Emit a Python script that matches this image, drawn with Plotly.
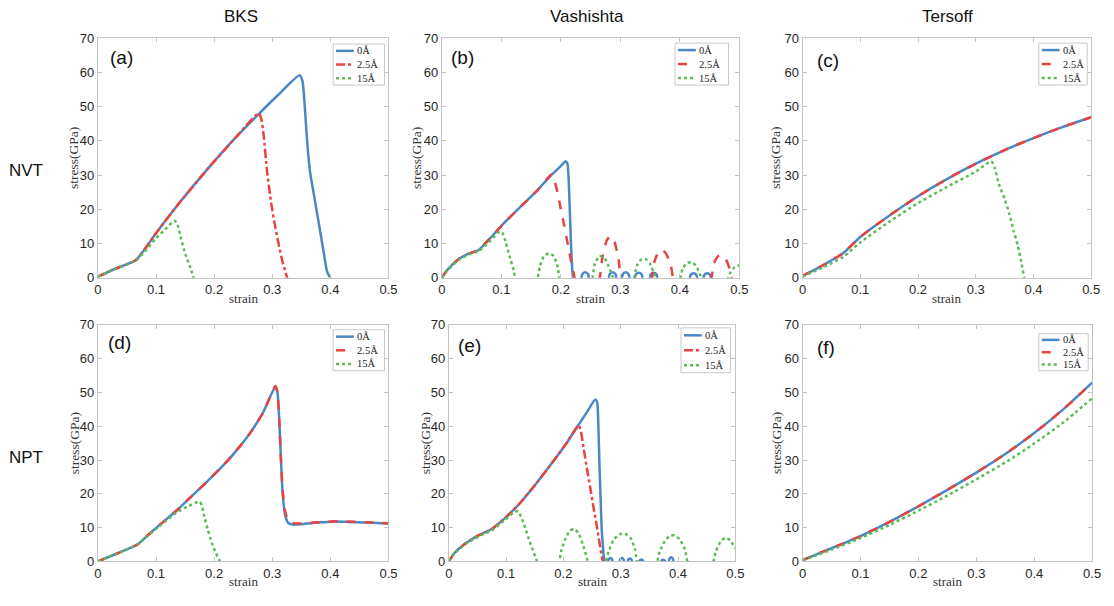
import plotly.graph_objects as go
from plotly.subplots import make_subplots

W, H = 1114, 606

# ---------------- data: strain / stress (GPa) ----------------
# BKS, NVT
bks_nvt_0_strain = [0, 0.03, 0.065, 0.08, 0.10, 0.14, 0.19, 0.24, 0.277, 0.31, 0.347, 0.352, 0.356, 0.360, 0.365, 0.372, 0.381, 0.389, 0.394, 0.398, 0.403]
bks_nvt_0_stress = [0.3, 2.6, 5.1, 8.2, 13.0, 21.8, 32.0, 41.5, 47.9, 53.4, 59.2, 57.5, 50.0, 40.0, 31.0, 24.0, 15.0, 7.0, 2.0, 0.5, -0.8]
bks_nvt_25_strain = [0, 0.03, 0.065, 0.08, 0.10, 0.14, 0.19, 0.24, 0.277, 0.281, 0.285, 0.291, 0.298, 0.305, 0.312, 0.318, 0.323, 0.327]
bks_nvt_25_stress = [0.3, 2.6, 5.1, 8.2, 13.0, 21.8, 32.0, 41.5, 48.1, 46.5, 42.0, 31.3, 22.0, 15.0, 9.0, 4.5, 1.5, -0.8]
bks_nvt_15_strain = [0, 0.03, 0.065, 0.08, 0.099, 0.115, 0.132, 0.137, 0.142, 0.151, 0.159, 0.166]
bks_nvt_15_stress = [0.3, 2.6, 5.0, 7.5, 11.3, 14.0, 16.6, 15.5, 12.0, 6.6, 3.0, -0.8]

# Vashishta, NVT
vas_nvt_0_strain = [0, 0.01, 0.029, 0.045, 0.062, 0.08, 0.106, 0.135, 0.161, 0.184, 0.2, 0.208, 0.211, 0.214, 0.216, 0.218, 0.22, 0.222,
                    0.233, 0.236, 0.241, 0.246, 0.249,
                    0.279, 0.282, 0.287, 0.292, 0.295,
                    0.301, 0.304, 0.309, 0.314, 0.317,
                    0.323, 0.326, 0.331, 0.336, 0.339,
                    0.348, 0.351, 0.356, 0.361, 0.364,
                    0.415, 0.418, 0.423, 0.428, 0.431,
                    0.438, 0.441, 0.446, 0.451, 0.454, 0.5]
vas_nvt_0_stress = [0, 2.4, 5.5, 7.0, 8.1, 11.3, 16.2, 21.2, 25.6, 30.0, 32.6, 34.0, 33.4, 25.0, 15.0, 6.0, 1.0, -1.5,
                    -1.5, 1.0, 1.6, 1.0, -1.5,
                    -1.5, 1.0, 1.6, 1.0, -1.5,
                    -1.5, 1.0, 1.6, 1.0, -1.5,
                    -1.5, 0.9, 1.4, 0.9, -1.5,
                    -1.5, 0.9, 1.4, 0.9, -1.5,
                    -1.5, 0.8, 1.3, 0.8, -1.5,
                    -1.5, 0.8, 1.3, 0.8, -1.5, -1.5]
vas_nvt_25_strain = [0, 0.01, 0.029, 0.045, 0.062, 0.08, 0.106, 0.135, 0.161, 0.185, 0.19, 0.195, 0.2, 0.206, 0.212, 0.217, 0.222, 0.226,
                     0.262, 0.27, 0.277, 0.283, 0.29, 0.297, 0.304,
                     0.35, 0.357, 0.364, 0.37, 0.377, 0.385, 0.392,
                     0.45, 0.457, 0.464, 0.47, 0.477, 0.484, 0.49, 0.5]
vas_nvt_25_stress = [0, 2.4, 5.5, 7.0, 8.1, 11.3, 16.2, 21.2, 25.6, 30.2, 28.0, 24.5, 20.0, 15.0, 9.5, 5.0, 1.0, -1.5,
                     -1.5, 6.0, 10.8, 12.1, 10.5, 5.5, -1.5,
                     -1.5, 4.5, 7.5, 8.1, 7.0, 3.5, -1.5,
                     -1.5, 4.0, 6.2, 6.6, 5.5, 2.5, -1.5, -1.0]
vas_nvt_15_strain = [0, 0.01, 0.029, 0.045, 0.062, 0.08, 0.097, 0.102, 0.108, 0.115, 0.121, 0.126,
                     0.158, 0.165, 0.172, 0.18, 0.188, 0.195, 0.2,
                     0.25, 0.257, 0.265, 0.273, 0.28, 0.288, 0.293,
                     0.32, 0.328, 0.335, 0.342, 0.35, 0.357, 0.362,
                     0.398, 0.405, 0.413, 0.42, 0.427, 0.434, 0.44,
                     0.477, 0.485, 0.492, 0.5]
vas_nvt_15_stress = [0, 2.3, 5.3, 6.7, 7.8, 10.5, 13.5, 13.0, 10.0, 5.5, 2.0, -1.5,
                     -1.5, 3.5, 6.3, 7.1, 6.3, 3.0, -1.5,
                     -1.5, 4.0, 6.3, 5.8, 3.5, 0.0, -1.5,
                     -1.5, 3.5, 5.3, 5.5, 4.0, 1.0, -1.5,
                     -1.5, 2.8, 4.3, 4.5, 3.5, 1.0, -1.5,
                     -1.5, 1.5, 3.0, 3.6]

# Tersoff, NVT
ter_nvt_0_strain = [0, 0.035, 0.07, 0.1, 0.15, 0.2, 0.25, 0.3, 0.35, 0.4, 0.45, 0.5]
ter_nvt_0_stress = [0.5, 3.6, 7.1, 11.9, 18.1, 23.8, 28.8, 33.3, 37.3, 40.8, 44.0, 46.9]
ter_nvt_25_strain = [0, 0.035, 0.07, 0.1, 0.15, 0.2, 0.25, 0.3, 0.35, 0.4, 0.45, 0.5]
ter_nvt_25_stress = [0.5, 3.6, 7.1, 11.9, 18.1, 23.8, 28.8, 33.3, 37.3, 40.8, 44.0, 46.9]
ter_nvt_15_strain = [0, 0.035, 0.07, 0.1, 0.15, 0.2, 0.25, 0.3, 0.327, 0.333, 0.34, 0.35, 0.358, 0.366, 0.373, 0.379, 0.384, 0.386]
ter_nvt_15_stress = [0.3, 3.0, 6.0, 10.3, 16.3, 21.8, 26.5, 31.0, 34.0, 32.0, 27.5, 23.0, 18.8, 13.5, 9.3, 4.5, 0.0, -1.0]

# BKS, NPT
bks_npt_0_strain = [0, 0.035, 0.068, 0.085, 0.105, 0.135, 0.162, 0.19, 0.219, 0.245, 0.264, 0.285, 0.3055, 0.309, 0.312, 0.315, 0.318,
                    0.322, 0.327, 0.335, 0.35, 0.37, 0.39, 0.41, 0.43, 0.46, 0.5]
bks_npt_0_stress = [0, 2.5, 5.0, 7.6, 10.6, 15.0, 19.4, 24.0, 29.0, 34.2, 38.5, 44.3, 51.8, 50.0, 42.0, 30.0, 20.0,
                    14.0, 11.5, 10.9, 11.0, 11.4, 11.6, 11.8, 11.7, 11.5, 11.2]
bks_npt_25_strain = [0, 0.035, 0.068, 0.085, 0.105, 0.135, 0.162, 0.19, 0.219, 0.245, 0.264, 0.285, 0.3055, 0.309, 0.312, 0.315, 0.318,
                     0.322, 0.327, 0.335, 0.35, 0.37, 0.39, 0.41, 0.43, 0.46, 0.5]
bks_npt_25_stress = [0, 2.5, 5.0, 7.6, 10.6, 15.0, 19.4, 24.0, 29.0, 34.2, 38.5, 44.3, 51.9, 50.0, 42.0, 30.5, 21.0,
                     15.0, 12.3, 11.4, 11.2, 11.5, 11.7, 11.9, 11.8, 11.6, 11.3]
bks_npt_15_strain = [0, 0.035, 0.068, 0.085, 0.105, 0.134, 0.155, 0.175, 0.179, 0.182, 0.189, 0.196, 0.203, 0.21, 0.212]
bks_npt_15_stress = [0, 2.5, 5.0, 7.5, 10.3, 14.3, 16.3, 17.7, 16.5, 14.1, 9.5, 5.5, 2.5, 0.0, -1.0]

# Vashishta, NPT
vas_npt_0_strain = [0, 0.01, 0.029, 0.052, 0.075, 0.098, 0.126, 0.155, 0.184, 0.205, 0.224, 0.24, 0.2557, 0.259, 0.261, 0.263, 0.265,
                    0.267, 0.269, 0.271, 0.274,
                    0.277, 0.279, 0.282, 0.285, 0.287,
                    0.297, 0.299, 0.302, 0.305, 0.307,
                    0.311, 0.313, 0.316, 0.319, 0.321,
                    0.331, 0.333, 0.336, 0.339, 0.341,
                    0.369, 0.371, 0.374, 0.377, 0.379,
                    0.382, 0.385, 0.388, 0.391, 0.394, 0.5]
vas_npt_0_stress = [0, 2.5, 5.3, 7.7, 9.6, 12.8, 17.6, 23.6, 30.0, 34.9, 39.8, 43.9, 47.9, 47.0, 40.0, 28.0, 18.0,
                    9.0, 4.3, 0.5, -1.5,
                    -1.5, 0.6, 1.0, 0.6, -1.5,
                    -1.5, 0.6, 1.0, 0.6, -1.5,
                    -1.5, 0.5, 0.9, 0.5, -1.5,
                    -1.5, 0.3, 0.6, 0.3, -1.5,
                    -1.5, 0.2, 0.5, 0.2, -1.5,
                    -1.5, 0.8, 1.2, 0.8, -1.5, -1.5]
vas_npt_25_strain = [0, 0.01, 0.029, 0.052, 0.075, 0.098, 0.126, 0.155, 0.184, 0.205, 0.227, 0.231, 0.2356, 0.241, 0.247, 0.253,
                     0.2586, 0.263, 0.267, 0.271]
vas_npt_25_stress = [0, 2.5, 5.3, 7.7, 9.6, 12.8, 17.6, 23.6, 30.0, 34.9, 40.3, 38.0, 33.2, 27.5, 21.7, 15.5,
                     10.1, 5.5, 1.4, -1.5]
vas_npt_15_strain = [0, 0.01, 0.029, 0.052, 0.075, 0.098, 0.112, 0.1207, 0.128, 0.135, 0.141, 0.1466, 0.154, 0.157,
                     0.19, 0.196, 0.203, 0.211, 0.218, 0.226, 0.234, 0.241, 0.245,
                     0.27, 0.279, 0.288, 0.298, 0.3075, 0.317, 0.325, 0.331,
                     0.36, 0.368, 0.377, 0.386, 0.394, 0.403, 0.412, 0.42,
                     0.458, 0.466, 0.474, 0.483, 0.491, 0.5]
vas_npt_15_stress = [0, 2.4, 5.1, 7.4, 9.2, 12.3, 14.3, 14.9, 12.5, 9.1, 6.0, 3.4, 0.0, -1.5,
                     -1.5, 3.0, 6.5, 9.0, 9.6, 8.5, 5.0, 1.0, -1.5,
                     -1.5, 3.0, 6.5, 8.0, 8.2, 7.0, 3.5, -1.5,
                     -1.5, 3.0, 6.0, 7.6, 7.7, 6.5, 3.5, -1.5,
                     -1.5, 3.0, 5.8, 7.0, 6.2, 3.8]

# Tersoff, NPT
ter_npt_0_strain = [0, 0.05, 0.1, 0.15, 0.2, 0.25, 0.3, 0.35, 0.4, 0.45, 0.5]
ter_npt_0_stress = [0.4, 3.9, 7.5, 11.7, 16.3, 21.2, 26.3, 31.8, 38.0, 45.0, 52.9]
ter_npt_25_strain = [0, 0.05, 0.1, 0.15, 0.2, 0.25, 0.3, 0.35, 0.4, 0.45, 0.5]
ter_npt_25_stress = [0.4, 3.9, 7.5, 11.7, 16.3, 21.2, 26.3, 31.8, 38.0, 45.0, 52.9]
ter_npt_15_strain = [0, 0.05, 0.1, 0.15, 0.2, 0.25, 0.3, 0.35, 0.4, 0.45, 0.5]
ter_npt_15_stress = [0.3, 3.5, 6.9, 10.8, 15.0, 19.5, 24.3, 29.3, 34.9, 41.1, 48.3]

potentials = ["BKS", "Vashishta", "Tersoff"]
ensembles = ["NVT", "NPT"]
series_names = ["0Å", "2.5Å", "15Å"]
panel_tags = ["(a)", "(b)", "(c)", "(d)", "(e)", "(f)"]
x_ticks = [0, 0.1, 0.2, 0.3, 0.4, 0.5]
y_ticks = [0, 10, 20, 30, 40, 50, 60, 70]

BLUE = "#4b87c5"
RED = "#e8433f"
GREEN = "#5dba57"
SERIF = "Liberation Serif, DejaVu Serif, serif"
SANS = "Liberation Sans, Arial, Helvetica, sans-serif"

# per-panel geometry in pixels: plot box, tag position, legend box, y-title x, red dash style
panels = [
    dict(box=(95, 389, 32, 277.5), tag=(105, 52), leg=(333, 385, 38, 80), ylab=71, reddash="dashdot",
         data=[(bks_nvt_0_strain, bks_nvt_0_stress), (bks_nvt_25_strain, bks_nvt_25_stress), (bks_nvt_15_strain, bks_nvt_15_stress)]),
    dict(box=(443, 744, 32, 277.5), tag=(450, 52), leg=(679, 733, 37, 80), ylab=418, reddash="dash",
         data=[(vas_nvt_0_strain, vas_nvt_0_stress), (vas_nvt_25_strain, vas_nvt_25_stress), (vas_nvt_15_strain, vas_nvt_15_stress)]),
    dict(box=(808, 1100, 32, 277.5), tag=(821, 55), leg=(1047, 1096, 37, 80), ylab=781, reddash="dash",
         data=[(ter_nvt_0_strain, ter_nvt_0_stress), (ter_nvt_25_strain, ter_nvt_25_stress), (ter_nvt_15_strain, ter_nvt_15_stress)]),
    dict(box=(95, 389, 326, 568.5), tag=(103, 344), leg=(333, 385, 331, 373), ylab=71, reddash="dash",
         data=[(bks_npt_0_strain, bks_npt_0_stress), (bks_npt_25_strain, bks_npt_25_stress), (bks_npt_15_strain, bks_npt_15_stress)]),
    dict(box=(450, 740, 326, 568.5), tag=(457, 347), leg=(685, 735, 329, 375), ylab=426, reddash="dashdot",
         data=[(vas_npt_0_strain, vas_npt_0_stress), (vas_npt_25_strain, vas_npt_25_stress), (vas_npt_15_strain, vas_npt_15_stress)]),
    dict(box=(808, 1101, 326, 568.5), tag=(821, 349), leg=(1047, 1097, 335, 373), ylab=781, reddash="dash",
         data=[(ter_npt_0_strain, ter_npt_0_stress), (ter_npt_25_strain, ter_npt_25_stress), (ter_npt_15_strain, ter_npt_15_stress)]),
]


def px(x):
    return x / W


def py(y):
    return 1 - y / H


fig = make_subplots(rows=2, cols=3)
annotations = []
shapes = []

for i, p in enumerate(panels):
    row, col = i // 3 + 1, i % 3 + 1
    styles = [(BLUE, "solid"), (RED, p["reddash"]), (GREEN, "dot")]
    for (xs, ys), (color, dash), name in zip(p["data"], styles, series_names):
        fig.add_trace(
            go.Scatter(x=xs, y=ys, mode="lines", name=name, showlegend=False, hoverinfo="skip",
                       line=dict(color=color, width=2.5, dash=dash, shape="spline", smoothing=0.6)),
            row=row, col=col)

    l, r, t, b = p["box"]
    suffix = "" if i == 0 else str(i + 1)
    fig.layout["xaxis" + suffix].update(domain=[px(l), px(r)])
    fig.layout["yaxis" + suffix].update(domain=[py(b), py(t)])

    # panel tag
    tx, ty = p["tag"]
    annotations.append(dict(x=px(tx), y=py(ty), xref="paper", yref="paper", text=panel_tags[i],
                            showarrow=False, xanchor="left", yanchor="middle",
                            font=dict(family=SANS, size=19, color="#111")))
    # axis titles
    annotations.append(dict(x=px((l + r) / 2), y=py(b + 21), xref="paper", yref="paper", text="strain",
                            showarrow=False, xanchor="center", yanchor="middle",
                            font=dict(family=SERIF, size=13, color="#333")))
    annotations.append(dict(x=px(p["ylab"]), y=py((t + b) / 2), xref="paper", yref="paper", text="stress(GPa)",
                            showarrow=False, textangle=-90, xanchor="center", yanchor="middle",
                            font=dict(family=SERIF, size=13.5, color="#333")))

    # legend box
    gl, gr, gt, gb = p["leg"]
    shapes.append(dict(type="rect", xref="paper", yref="paper", x0=px(gl), x1=px(gr), y0=py(gb), y1=py(gt),
                       line=dict(color="#c8c8c8", width=1), fillcolor="white", layer="above"))
    step = (gb - gt) / 3
    for k, ((color, dash), name) in enumerate(zip(styles, series_names)):
        yy = gt + step * (k + 0.5)
        shapes.append(dict(type="line", xref="paper", yref="paper", x0=px(gl + 3), x1=px(gl + 21),
                           y0=py(yy), y1=py(yy), line=dict(color=color, width=2.5, dash=dash), layer="above"))
        annotations.append(dict(x=px(gl + 22), y=py(yy), xref="paper", yref="paper", text=name,
                                showarrow=False, xanchor="left", yanchor="middle",
                                font=dict(family=SERIF, size=10.5, color="#222")))

# column and row headers
for name, cx in zip(potentials, [240, 590, 955]):
    annotations.append(dict(x=px(cx), y=py(10), xref="paper", yref="paper", text=name, showarrow=False,
                            xanchor="center", yanchor="middle", font=dict(family=SANS, size=17, color="#111")))
for name, cy in zip(ensembles, [168, 462]):
    annotations.append(dict(x=px(22), y=py(cy), xref="paper", yref="paper", text=name, showarrow=False,
                            xanchor="center", yanchor="middle", font=dict(family=SANS, size=17, color="#111")))

axis_common = dict(showgrid=False, zeroline=False, showline=True, mirror="ticks", linecolor="#c4c4c4",
                   linewidth=1, ticks="inside", ticklen=4, tickcolor="#c4c4c4",
                   tickfont=dict(family=SANS, size=13, color="#262626"))
fig.update_xaxes(range=[0, 0.5], tickvals=x_ticks, ticktext=[f"{v:g}" for v in x_ticks], **axis_common)
fig.update_yaxes(range=[0, 70], tickvals=y_ticks, ticktext=[str(v) for v in y_ticks], **axis_common)

fig.update_layout(width=W, height=H, margin=dict(l=0, r=0, t=0, b=0), paper_bgcolor="white",
                  plot_bgcolor="white", showlegend=False, annotations=annotations, shapes=shapes)

fig.write_html("out.html")
